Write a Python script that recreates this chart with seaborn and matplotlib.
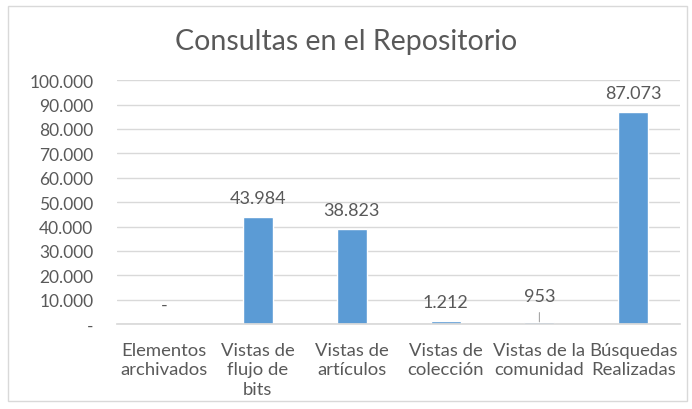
import matplotlib
matplotlib.use('Agg')
import pandas as pd
import seaborn as sns
from matplotlib import pyplot as plt
from matplotlib.patches import Rectangle
from matplotlib.ticker import FuncFormatter

categories = ['Elementos\narchivados', 'Vistas de\nflujo de\nbits', 'Vistas de\nartículos',
              'Vistas de\ncolección', 'Vistas de la\ncomunidad', 'Búsquedas\nRealizadas']
values = [0, 43984, 38823, 1212, 953, 87073]
y_ticks = list(range(0, 100001, 10000))


def fmt_miles(v, pos=None):
    """Format with dot as thousands separator, zero as '-'"""
    if v == 0:
        return '-'
    return f'{int(round(v)):,}'.replace(',', '.')


if __name__ == '__main__':
    sns.set_theme(style='white')
    plt.rcParams['font.family'] = ['Lato', 'DejaVu Sans']
    text_color = '#595959'

    df = pd.DataFrame({'categoria': categories, 'valor': values})

    fig = plt.figure(figsize=(6.92, 4.10), dpi=100)
    ax = fig.add_axes([0.169, 0.207, 0.814, 0.595])
    sns.barplot(data=df, x='categoria', y='valor', color='#5b9bd5', width=0.32,
                saturation=1, ax=ax)

    ax.set_ylim(0, 100000)
    ax.set_yticks(y_ticks)
    ax.yaxis.set_major_formatter(FuncFormatter(fmt_miles))
    ax.grid(axis='y', color='#d9d9d9', linewidth=1)
    ax.set_axisbelow(True)
    for s in ['left', 'right', 'top']:
        ax.spines[s].set_visible(False)
    ax.spines['bottom'].set_color('#d9d9d9')
    ax.tick_params(axis='y', length=0, labelsize=12.5, colors=text_color, pad=17)
    ax.tick_params(axis='x', length=0, labelsize=13.3, colors=text_color, pad=13)
    for lbl in ax.get_xticklabels():
        lbl.set_linespacing(1.25)
    ax.set_xlabel('')
    ax.set_ylabel('')
    fig.text(0.5, 0.898, 'Consultas en el Repositorio', fontsize=20.5, color=text_color,
             ha='center', va='center')

    for i, v in enumerate(values):
        if i == 4:
            ax.annotate(fmt_miles(v), xy=(i, v), xytext=(0, 13), textcoords='offset points',
                        ha='center', va='bottom', fontsize=13, color=text_color,
                        arrowprops=dict(arrowstyle='-', color='#a6a6a6', lw=0.8,
                                        shrinkA=4, shrinkB=0))
        else:
            ax.annotate(fmt_miles(v), xy=(i, v), xytext=(0, 8), textcoords='offset points',
                        ha='center', va='bottom', fontsize=13, color=text_color)

    fig.patches.append(Rectangle((0.011, 0.02), 0.982, 0.962, transform=fig.transFigure,
                                 fill=False, edgecolor='#d9d9d9', linewidth=1))

    plt.savefig('out.png', dpi=100)
